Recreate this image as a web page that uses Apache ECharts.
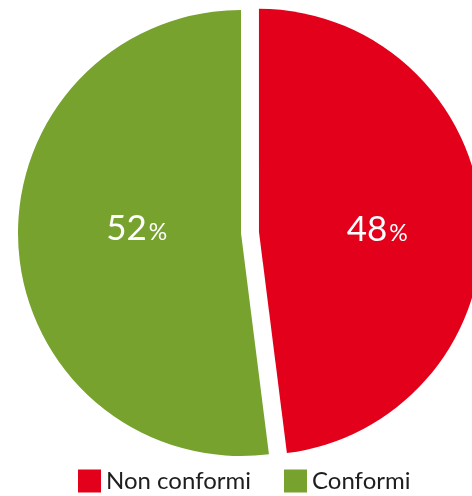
<!DOCTYPE html>
<html>
<head>
<meta charset="utf-8">
<script src="https://cdn.jsdelivr.net/npm/echarts@6/dist/echarts.min.js"></script>
<style>
  html, body { margin: 0; padding: 0; background: #ffffff; }
  #chart { width: 472px; height: 496px; }
</style>
</head>
<body>
<div id="chart"></div>
<script>
// Share of inspected items by outcome (percent)
const categories = ['Non conformi', 'Conformi'];
const values = [48, 52];
const colors = ['#E2001A', '#76A22D'];
// nudges applied to each slice's inside label
const labelOffsets = [[4, 5], [10, -11]];

const chart = echarts.init(document.getElementById('chart'), null, { renderer: 'canvas' });

const data = categories.map((name, i) => ({
  name: name,
  value: values[i],
  selected: i === 0,
  itemStyle: { color: colors[i] },
  label: { offset: labelOffsets[i] },
  select: { label: { offset: labelOffsets[i] } }
}));

chart.setOption({
  backgroundColor: '#ffffff',
  animation: false,
  legend: {
    left: 78,
    top: 469,
    padding: 0,
    itemWidth: 23,
    itemHeight: 23,
    itemGap: 33,
    icon: 'rect',
    selectedMode: false,
    textStyle: {
      fontFamily: 'Lato',
      fontSize: 24,
      color: '#1e1e1e',
      padding: [0, 0, 0, 0]
    },
    data: categories
  },
  series: [{
    type: 'pie',
    center: [241, 233],
    radius: 223,
    startAngle: 90,
    clockwise: true,
    selectedMode: 'multiple',
    selectedOffset: 18,
    silent: true,
    label: {
      show: true,
      position: 'inside',
      formatter: p => '{n|' + p.value + '}{p|%}',
      rich: {
        n: { fontFamily: 'Lato', fontSize: 35, color: '#ffffff' },
        p: { fontFamily: 'Lato', fontSize: 23, color: '#ffffff', padding: [7, 0, 0, 2] }
      }
    },
    labelLine: { show: false },
    data: data
  }]
});
</script>
</body>
</html>
